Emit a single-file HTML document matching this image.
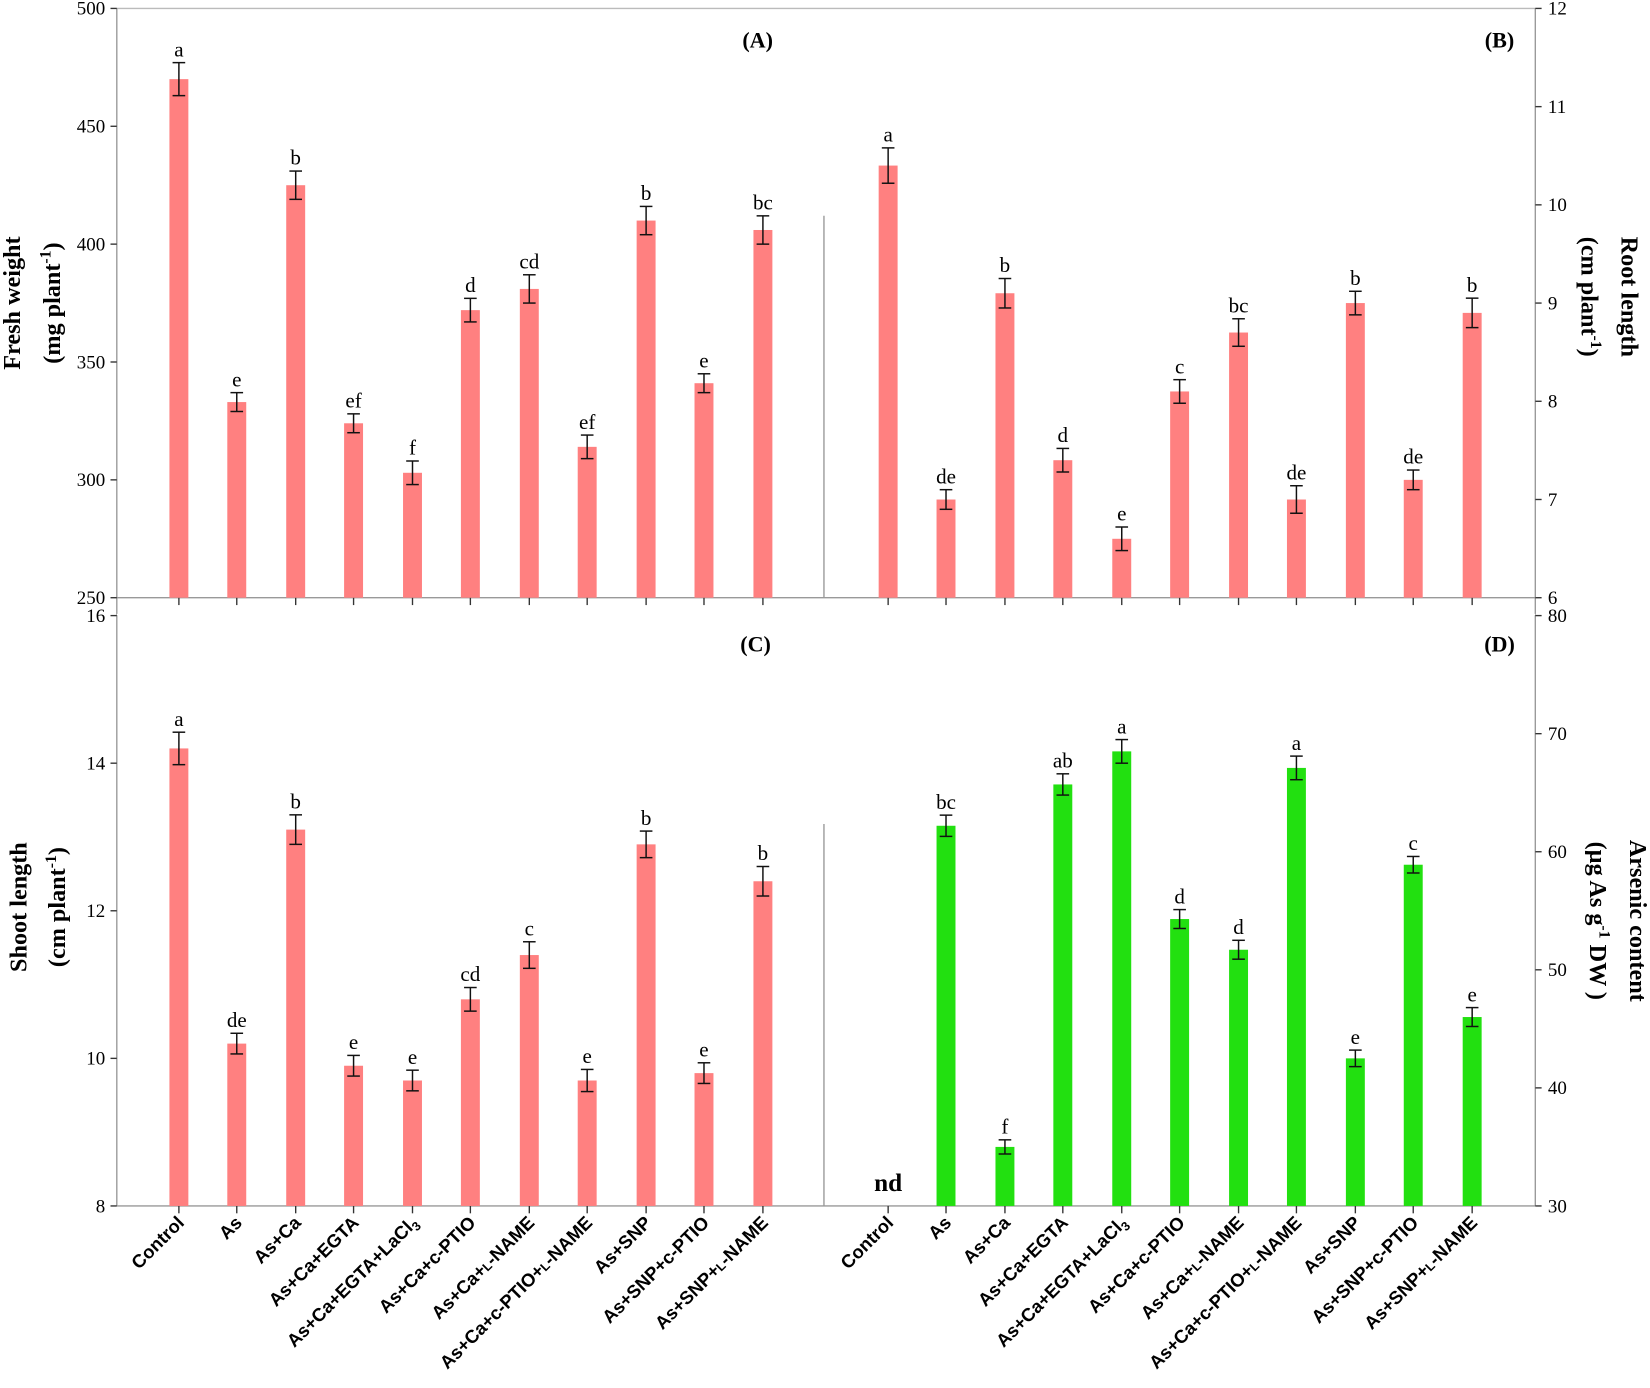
<!DOCTYPE html>
<html><head><meta charset="utf-8"><style>html,body{margin:0;padding:0;background:#fff}svg{display:block}</style></head>
<body>
<svg id="s" xmlns="http://www.w3.org/2000/svg" width="1650" height="1388" viewBox="0 0 1568 1319" preserveAspectRatio="none"></svg>
<script>
const s=document.getElementById('s');let h='';
const serif='font-family="Liberation Serif, serif"';
const sans='font-family="Liberation Sans, DejaVu Sans, sans-serif"';
const cA=[170,225,281,336,392,447,503,558,614,669,725];
const cB=cA.map(x=>x+674);
function line(x1,y1,x2,y2,c,w){h+=`<line x1="${x1}" y1="${y1}" x2="${x2}" y2="${y2}" stroke="${c||'#999'}" stroke-width="${w||1.3}"/>`;}
function txt(x,y,t,extra){h+=`<text x="${x}" y="${y}" ${extra}>${t}</text>`;}
line(111,8,1459,8,'#bbb');line(111,568,1459,568,'#999');line(111,1146,1459,1146,'#999');
line(111,8,111,1146);line(1459,8,1459,1146);
line(783,205,783,568);line(783,783,783,1146);
line(111,584,1459,584,'#fff');
function axis(x,y0,y1,v0,v1,step,right){for(let v=v0;v<=v1+1e-9;v+=step){const y=y0+(v-v0)/(v1-v0)*(y1-y0);
 if(right){line(x,y,x+6,y,'#333');txt(x+12,y+6,+v.toFixed(0),`${serif} font-size="18"`);}
 else{line(x-6,y,x,y,'#333');txt(x-11,y+6,+v.toFixed(0),`${serif} font-size="18" text-anchor="end"`);}}}
axis(111,568,8,250,500,50,false);
axis(1459,568,8,6,12,1,true);
axis(111,1146,585,8,16,2,false);
axis(1459,1146,585,30,80,10,true);
[...cA,...cB].forEach(x=>{line(x,568,x,575,'#333');line(x,1146,x,1153,'#333');});
function bars(cs,vals,errs,lets,y0,y1,v0,v1,col){cs.forEach((x,i)=>{if(vals[i]==null)return;
 const sc=v=>y0+(v-v0)/(v1-v0)*(y1-y0);const yt=sc(vals[i]);
 h+=`<rect x="${x-9}" y="${yt}" width="18" height="${y0-yt}" fill="${col}"/>`;
 const e1=sc(vals[i]+errs[i]),e2=sc(vals[i]-errs[i]);
 line(x,e1,x,e2,'#111',1.4);line(x-6,e1,x+6,e1,'#111',1.4);line(x-6,e2,x+6,e2,'#111',1.4);
 txt(x,e1-6,lets[i],`${serif} font-size="20" text-anchor="middle"`);});}
const P='#ff8080',G='#22e010';
bars(cA,[470,333,425,324,303,372,381,314,410,341,406],[7,4,6,4,5,5,6,5,6,4,6],['a','e','b','ef','f','d','cd','ef','b','e','bc'],568,8,250,500,P);
bars(cB,[10.4,7.0,9.1,7.4,6.6,8.1,8.7,7.0,9.0,7.2,8.9],[0.18,0.1,0.15,0.12,0.12,0.12,0.14,0.14,0.12,0.1,0.15],['a','de','b','d','e','c','bc','de','b','de','b'],568,8,6,12,P);
bars(cA,[14.2,10.2,13.1,9.9,9.7,10.8,11.4,9.7,12.9,9.8,12.4],[0.22,0.14,0.2,0.14,0.14,0.16,0.18,0.15,0.18,0.14,0.2],['a','de','b','e','e','cd','c','e','b','e','b'],1146,585,8,16,P);
bars(cB,[null,62.2,35,65.7,68.5,54.3,51.7,67.1,42.5,58.9,46],[0,0.9,0.6,0.9,1,0.8,0.8,1,0.7,0.7,0.8],['','bc','f','ab','a','d','d','a','e','c','e'],1146,585,30,80,G);
txt(844,1132,'nd',`${serif} font-size="24" font-weight="bold" text-anchor="middle"`);
[['(A)',720,45],['(B)',1425,45],['(C)',718,619],['(D)',1425,619]].forEach(p=>txt(p[1],p[2],p[0],`${serif} font-size="21" font-weight="bold" text-anchor="middle"`));
function rl(x,y,t,rot){h+=`<text transform="translate(${x},${y}) rotate(${rot})" ${serif} font-size="23" font-weight="bold" text-anchor="middle">${t}</text>`;}
rl(19,288,'Fresh weight',-90);rl(57,288,'(mg plant<tspan dy="-9" font-size="15">-1</tspan><tspan dy="9">)</tspan>',-90);
rl(25,862,'Shoot length',-90);rl(62,862,'(cm plant<tspan dy="-9" font-size="15">-1</tspan><tspan dy="9">)</tspan>',-90);
rl(1541,282,'Root length',90);rl(1503,282,'(cm plant<tspan dy="-9" font-size="15">-1</tspan><tspan dy="9">)</tspan>',90);
rl(1549,875,'Arsenic content',90);rl(1511,875,'(µg As g<tspan dy="-9" font-size="15">-1</tspan><tspan dy="9"> DW )</tspan>',90);
const labs=['Control','As','As+Ca','As+Ca+EGTA','As+Ca+EGTA+LaCl<tspan font-size="12" dy="4">3</tspan>','As+Ca+c-PTIO','As+Ca+<tspan font-size="12">L</tspan>-NAME','As+Ca+c-PTIO+<tspan font-size="12">L</tspan>-NAME','As+SNP','As+SNP+c-PTIO','As+SNP+<tspan font-size="12">L</tspan>-NAME'];
[cA,cB].forEach(cs=>cs.forEach((x,i)=>{h+=`<text transform="translate(${x+6},${1163}) rotate(-45)" ${sans} font-size="17.5" font-weight="bold" text-anchor="end">${labs[i]}</text>`;}));
s.innerHTML=h;
</script>
</body></html>
